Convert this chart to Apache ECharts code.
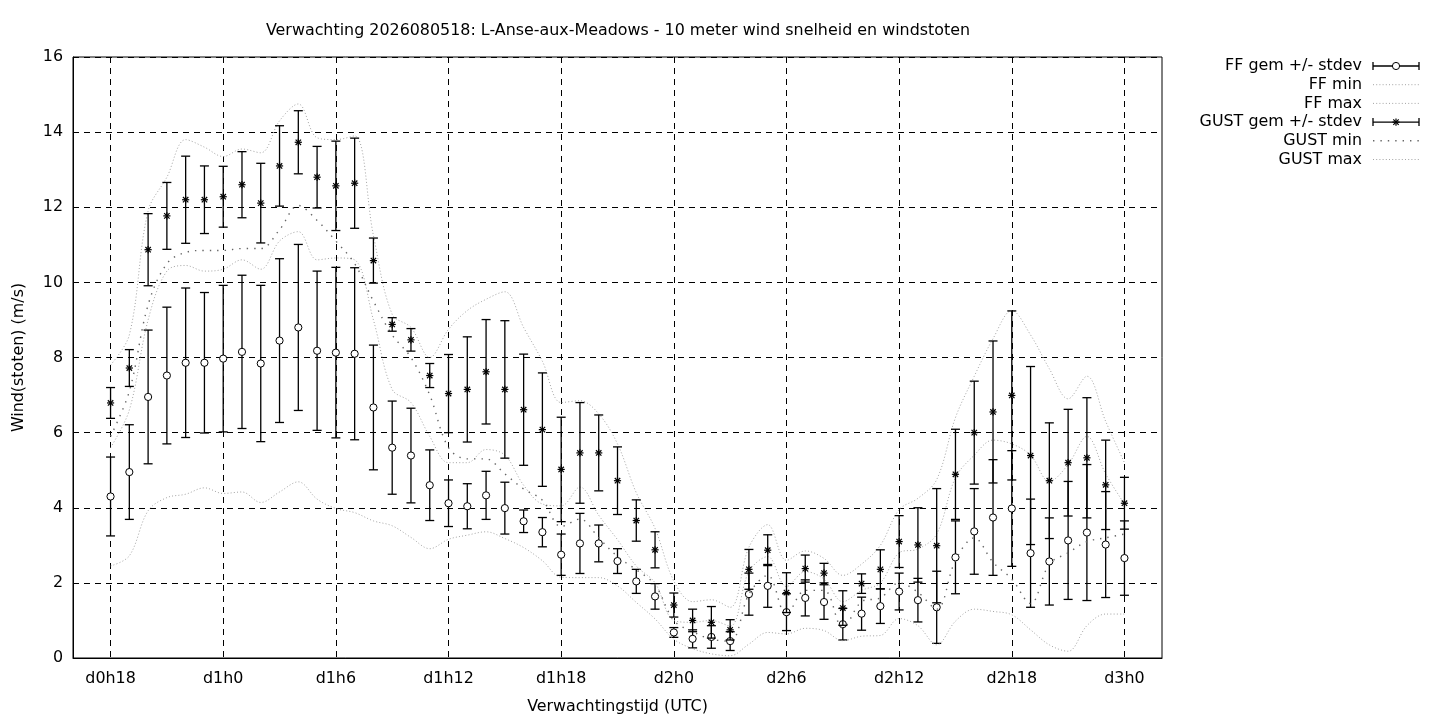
<!DOCTYPE html>
<html><head><meta charset="utf-8">
<script src="https://cdn.jsdelivr.net/npm/echarts@6/dist/echarts.min.js"></script>
<style>html,body{margin:0;padding:0;background:#fff}#c{width:1440px;height:720px}</style>
</head><body><div id="c"></div>
<script>
// x axis spans d0h16 .. d3h2, data from d0h18 .. d3h0 (hourly)
const axisStartHour = 16, axisEndHour = 74, firstHour = 18;
const tickLabels = ['d0h18','d1h0','d1h6','d1h12','d1h18','d2h0','d2h6','d2h12','d2h18','d3h0'];
const yTicks = [0, 2, 4, 6, 8, 10, 12, 14, 16];

const ffMean = [4.30,4.95,6.95,7.52,7.86,7.86,7.97,8.15,7.84,8.45,
  8.80,8.18,8.13,8.10,6.67,5.60,5.39,4.60,4.12,4.04,
  4.33,3.99,3.64,3.35,2.75,3.05,3.05,2.58,2.04,1.64,
  0.68,0.51,0.56,0.45,1.70,1.92,1.22,1.60,1.49,0.90,
  1.18,1.38,1.77,1.54,1.35,2.68,3.37,3.74,3.98,2.79,
  2.57,3.13,3.34,3.02,2.66];
const ffStd = [1.05,1.26,1.78,1.82,1.99,1.87,1.95,2.04,2.08,2.18,
  2.21,2.12,2.27,2.29,1.66,1.24,1.26,0.94,0.62,0.60,
  0.64,0.69,0.30,0.39,0.55,0.80,0.49,0.33,0.32,0.34,
  0.13,0.24,0.30,0.25,0.56,0.57,0.49,0.48,0.46,0.42,
  0.44,0.46,0.49,0.58,0.96,0.97,1.14,1.54,1.54,1.44,
  1.16,1.57,1.81,1.41,0.99];
const ffMin = [2.45,2.72,3.92,4.27,4.36,4.53,4.38,4.42,4.14,4.42,
  4.69,4.23,3.98,3.87,3.65,3.52,3.21,2.91,3.16,3.27,
  3.36,3.18,2.94,2.59,2.15,2.14,2.14,1.92,1.48,1.04,
  0.50,0.25,0.11,0.06,0.37,0.68,0.64,0.79,0.73,0.46,
  0.58,0.60,1.05,0.86,0.35,0.98,1.30,1.24,1.15,0.75,
  0.35,0.18,0.86,1.17,1.17];
const ffMax = [5.6,6.6,9.0,10.3,10.45,10.3,10.35,10.6,10.35,11.1,
  11.35,10.6,10.65,10.6,9.0,7.15,6.8,5.9,5.2,5.2,
  5.55,5.4,4.6,4.1,4.05,4.55,3.8,3.15,2.45,2.0,
  1.0,0.95,1.0,0.85,2.3,2.7,1.9,2.3,2.1,1.5,
  1.8,2.0,2.8,2.9,3.3,4.8,5.4,5.8,5.7,5.4,
  4.7,5.15,5.9,4.9,4.1];
const gustMean = [6.79,7.72,10.87,11.77,12.20,12.20,12.28,12.60,12.11,13.10,
  13.73,12.80,12.57,12.64,10.58,8.88,8.47,7.52,7.04,7.15,
  7.62,7.15,6.61,6.08,5.02,5.46,5.46,4.72,3.66,2.88,
  1.41,1.00,0.95,0.75,2.36,2.87,1.74,2.38,2.26,1.33,
  1.98,2.36,3.10,3.01,2.99,4.89,6.00,6.55,6.99,5.39,
  4.72,5.20,5.33,4.61,4.12];
const gustStd = [0.41,0.49,0.96,0.89,1.16,0.90,0.81,0.88,1.06,1.07,
  0.84,0.82,1.19,1.20,0.60,0.18,0.30,0.32,1.04,1.40,
  1.39,1.83,1.48,1.51,1.39,1.34,1.01,0.90,0.55,0.48,
  0.32,0.30,0.42,0.27,0.53,0.41,0.53,0.36,0.26,0.46,
  0.26,0.52,0.69,0.99,1.52,1.20,1.37,1.89,2.25,2.37,
  1.54,1.42,1.60,1.19,0.69];
const gustMin = [5.9,7.1,9.4,10.5,10.8,10.85,10.85,10.9,10.9,11.4,
  12.05,11.65,11.1,10.5,9.5,8.6,8.0,7.0,5.6,5.3,
  5.3,4.9,4.5,4.2,3.5,3.7,3.2,2.7,2.35,1.95,
  1.0,0.7,0.5,0.45,1.7,2.2,1.15,1.8,1.8,0.8,
  1.5,1.6,2.0,1.75,1.3,2.6,3.2,2.55,2.1,1.45,
  2.5,2.8,3.1,3.2,3.3];
const gustMax = [7.8,8.6,11.9,12.8,13.8,13.6,13.35,13.55,13.45,14.3,
  14.75,13.85,13.8,13.9,11.25,9.15,8.8,8.0,8.75,9.25,
  9.55,9.75,8.8,7.9,6.8,6.85,6.5,5.7,4.4,3.45,
  2.05,1.5,1.55,1.35,2.95,3.55,2.6,2.85,2.65,2.2,
  2.5,3.0,3.95,4.25,4.75,6.4,7.5,8.5,9.25,8.6,
  7.7,6.9,7.5,6.3,5.2];

const legendNames = ['FF gem +/- stdev','FF min','FF max','GUST gem +/- stdev','GUST min','GUST max'];
const titleText = 'Verwachting 2026080518: L-Anse-aux-Meadows - 10 meter wind snelheid en windstoten';

const FONT = 'DejaVu Sans';
const FS = 15.9;

const categories = [];
for (let h = axisStartHour; h <= axisEndHour; h++) categories.push('d' + Math.floor(h / 24) + 'h' + (h % 24));
const off = firstHour - axisStartHour;
const isTick = (i, v) => tickLabels.indexOf(v) >= 0;

const fineDot = { color: '#a4a4a4', width: 1, type: [1, 2.2] };
const coarseDot = { color: '#666', width: 1.4, type: [1.4, 6.0] };

function starChildren(cx, cy, r, st) {
  const d = r * 0.75;
  return [
    { type: 'line', shape: { x1: cx - r, y1: cy, x2: cx + r, y2: cy }, style: st },
    { type: 'line', shape: { x1: cx, y1: cy - r, x2: cx, y2: cy + r }, style: st },
    { type: 'line', shape: { x1: cx - d, y1: cy - d, x2: cx + d, y2: cy + d }, style: st },
    { type: 'line', shape: { x1: cx - d, y1: cy + d, x2: cx + d, y2: cy - d }, style: st }
  ];
}

function errRender(marker) {
  return function (params, api) {
    const xi = api.value(0), m = api.value(1), s = api.value(2);
    const c = api.coord([xi, m]);
    const t = api.coord([xi, m + s]);
    const b = api.coord([xi, m - s]);
    const w = 4.5;
    const st = { stroke: '#000', lineWidth: 1.3 };
    const ch = [
      { type: 'line', shape: { x1: c[0], y1: t[1], x2: c[0], y2: b[1] }, style: st },
      { type: 'line', shape: { x1: c[0] - w, y1: t[1], x2: c[0] + w, y2: t[1] }, style: st },
      { type: 'line', shape: { x1: c[0] - w, y1: b[1], x2: c[0] + w, y2: b[1] }, style: st }
    ];
    if (marker === 'circle') {
      ch.push({ type: 'circle', shape: { cx: c[0], cy: c[1], r: 3.6 }, style: { fill: '#fff', stroke: '#000', lineWidth: 1 } });
    } else {
      ch.push.apply(ch, starChildren(c[0], c[1], 3.6, { stroke: '#000', lineWidth: 1.2 }));
    }
    return { type: 'group', children: ch };
  };
}

const errData = (mean, std) => mean.map((m, i) => [i + off, m, std[i]]);
const lineData = arr => arr.map((v, i) => [i + off, v]);

function lineSeries(name, arr, style) {
  return { name, type: 'line', data: lineData(arr), smooth: 0.35, symbol: 'none', showSymbol: false,
    lineStyle: style, silent: true, z: 3 };
}

// legend drawn as graphic
const legX = 1362, sx1 = 1373, sx2 = 1419, legY0 = 66, legDy = 18.7;
const graphic = [];
legendNames.forEach((n, k) => {
  const y = legY0 + k * legDy;
  graphic.push({ type: 'text', x: legX, y: y,
    style: { text: n, fill: '#000', font: FS + 'px "' + FONT + '"', align: 'right', verticalAlign: 'middle' } });
  const st = { stroke: '#000', lineWidth: 1.3 };
  if (k === 0 || k === 3) {
    graphic.push({ type: 'line', shape: { x1: sx1, y1: y, x2: sx2, y2: y }, style: st });
    graphic.push({ type: 'line', shape: { x1: sx1, y1: y - 4, x2: sx1, y2: y + 4 }, style: st });
    graphic.push({ type: 'line', shape: { x1: sx2, y1: y - 4, x2: sx2, y2: y + 4 }, style: st });
    const cx = (sx1 + sx2) / 2;
    if (k === 0) graphic.push({ type: 'circle', shape: { cx: cx, cy: y, r: 3.6 }, style: { fill: '#fff', stroke: '#000', lineWidth: 1 } });
    else starChildren(cx, y, 3.6, { stroke: '#000', lineWidth: 1.2 }).forEach(e => graphic.push(e));
  } else {
    const s = k === 4 ? coarseDot : fineDot;
    graphic.push({ type: 'line', shape: { x1: sx1, y1: y, x2: sx2, y2: y },
      style: { stroke: s.color, lineWidth: s.width, lineDash: s.type } });
  }
});

const chart = echarts.init(document.getElementById('c'), null, { renderer: 'canvas' });
chart.setOption({
  animation: false,
  backgroundColor: '#fff',
  textStyle: { fontFamily: FONT },
  title: { text: titleText, left: 613, top: 18, textAlign: 'center',
    textStyle: { fontFamily: FONT, fontSize: FS, fontWeight: 'normal', color: '#000' } },
  grid: { left: 73, right: 278, top: 57, bottom: 61, show: true, borderColor: '#000', borderWidth: 1, containLabel: false },
  xAxis: {
    type: 'category', data: categories, boundaryGap: false,
    name: 'Verwachtingstijd (UTC)', nameLocation: 'middle', nameGap: 41,
    nameTextStyle: { fontFamily: FONT, fontSize: FS, color: '#000' },
    axisLine: { show: true, lineStyle: { color: '#000', width: 1 } },
    axisTick: { show: false },
    axisLabel: { interval: isTick, margin: 13, color: '#000', fontFamily: FONT, fontSize: FS },
    splitLine: { show: true, interval: isTick, lineStyle: { color: '#000', width: 1, type: [6, 5] } }
  },
  yAxis: {
    type: 'value', min: yTicks[0], max: yTicks[yTicks.length - 1], interval: 2,
    name: 'Wind(stoten) (m/s)', nameLocation: 'middle', nameGap: 46, nameRotate: 90,
    nameTextStyle: { fontFamily: FONT, fontSize: FS, color: '#000' },
    axisLine: { show: true, lineStyle: { color: '#000', width: 1 } },
    axisTick: { show: false },
    axisLabel: { margin: 10, color: '#000', fontFamily: FONT, fontSize: FS },
    splitLine: { show: true, lineStyle: { color: '#000', width: 1, type: [6, 5] } }
  },
  graphic: graphic,
  series: [
    { name: legendNames[0], type: 'custom', renderItem: errRender('circle'), data: errData(ffMean, ffStd),
      encode: { x: 0, y: 1 }, clip: true, silent: true, z: 2 },
    lineSeries(legendNames[1], ffMin, fineDot),
    lineSeries(legendNames[2], ffMax, fineDot),
    { name: legendNames[3], type: 'custom', renderItem: errRender('star'), data: errData(gustMean, gustStd),
      encode: { x: 0, y: 1 }, clip: true, silent: true, z: 4 },
    lineSeries(legendNames[4], gustMin, coarseDot),
    lineSeries(legendNames[5], gustMax, fineDot)
  ]
});
</script>
</body></html>
